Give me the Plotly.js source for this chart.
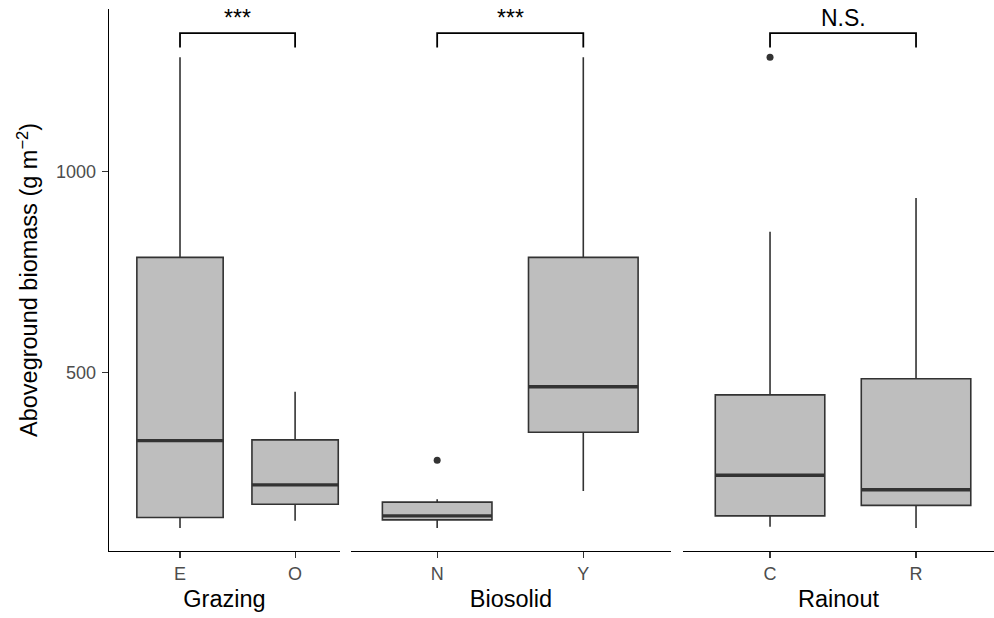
<!DOCTYPE html>
<html>
<head>
<meta charset="utf-8">
<script src="https://cdn.plot.ly/plotly-3.0.1.min.js"></script>
<style>html,body{margin:0;padding:0;background:#fff;}#chart{width:994px;height:618px;}</style>
</head>
<body>
<div id="chart"></div>
<script>
// ---- data ----
const panelTitles = ["Grazing", "Biosolid", "Rainout"];
const panelCats = [["E", "O"], ["N", "Y"], ["C", "R"]];
const lowerWhisker = [[114, 132], [114, 206], [117, 114]];
const q1Vals      = [[140, 173], [134, 352], [144, 170]];
const medianVals  = [[331, 221], [144, 465], [245, 209]];
const q3Vals      = [[787, 333], [178, 787], [445, 485]];
const upperWhisker= [[1285, 453], [185, 1285], [851, 935]];
const outlierVals = [[[], []], [[282], []], [[1285], []]];
const sigLabels = ["***", "***", "N.S."];
const sigBarY = 1345;
const sigTickY = 1309;
const yTicks = [500, 1000];

// ---- styling ----
const boxFill = "#bebebe";
const lineCol = "#333333";
const boxW = 0.75;
const xRanges = [[0.383, 2.39], [0.41, 2.60], [0.404, 2.534]];
const domains = [[0, 0.261], [0.2734, 0.635], [0.6486, 1]];

const traces = [];
const shapes = [];
const annotations = [];
const layout = {
  width: 994, height: 618,
  margin: {l: 109, r: 0, t: 9, b: 67},
  paper_bgcolor: "#fff", plot_bgcolor: "#fff",
  showlegend: false,
  font: {family: "Liberation Sans, Arial, sans-serif"},
  yaxis: {
    range: [56.5, 1405],
    tickvals: yTicks,
    ticks: "outside", ticklen: 6, tickwidth: 1.2, tickcolor: lineCol,
    ticklabelstandoff: 2,
    tickfont: {size: 18, color: "#4d4d4d"},
    showgrid: false, zeroline: false,
    showline: true, linecolor: "#000", linewidth: 1.4,
    title: {text: "Aboveground biomass (g m<sup>\u22122</sup>)", font: {size: 23.5, color: "#000"}, standoff: 11},
    anchor: "x"
  },
  shapes: shapes, annotations: annotations
};

panelTitles.forEach((pt, p) => {
  const xa = p === 0 ? "x" : "x" + (p + 1);
  const xkey = p === 0 ? "xaxis" : "xaxis" + (p + 1);
  layout[xkey] = {
    domain: domains[p], range: xRanges[p],
    tickvals: [1, 2], ticktext: panelCats[p],
    ticks: "outside", ticklen: 6, tickwidth: 1.2, tickcolor: lineCol,
    tickfont: {size: 18, color: "#4d4d4d"},
    showgrid: false, zeroline: false,
    showline: true, linecolor: "#000", linewidth: 1.4,
    anchor: "y",
    title: {text: pt, font: {size: 23.5, color: "#000"}, standoff: 7}
  };
  panelCats[p].forEach((c, i) => {
    const xv = i + 1;
    traces.push({
      type: "box", xaxis: xa, yaxis: "y",
      x: [xv],
      q1: [q1Vals[p][i]], median: [medianVals[p][i]], q3: [q3Vals[p][i]],
      lowerfence: [lowerWhisker[p][i]], upperfence: [upperWhisker[p][i]],
      width: boxW, whiskerwidth: 0,
      fillcolor: boxFill, line: {color: lineCol, width: 1.6},
      boxpoints: false, hoverinfo: "skip"
    });
    // thicker median line (ggplot style)
    traces.push({
      type: "scatter", mode: "lines", xaxis: xa, yaxis: "y",
      x: [xv - boxW / 2, xv + boxW / 2],
      y: [medianVals[p][i], medianVals[p][i]],
      line: {color: lineCol, width: 3.4}, hoverinfo: "skip"
    });
    if (outlierVals[p][i].length) {
      traces.push({
        type: "scatter", mode: "markers", xaxis: xa, yaxis: "y",
        x: outlierVals[p][i].map(() => xv), y: outlierVals[p][i],
        marker: {color: lineCol, size: 7}, hoverinfo: "skip"
      });
    }
  });
  // significance bracket
  traces.push({
    type: "scatter", mode: "lines", xaxis: xa, yaxis: "y",
    x: [1, 1, 2, 2], y: [sigTickY, sigBarY, sigBarY, sigTickY],
    line: {color: "#000", width: 1.8}, hoverinfo: "skip"
  });
  annotations.push({
    xref: xa, yref: "y", x: 1.5, y: sigBarY, yanchor: "bottom", showarrow: false,
    text: sigLabels[p], font: {size: 23, color: "#000"}, yshift: 0
  });
});

Plotly.newPlot("chart", traces, layout, {displayModeBar: false, staticPlot: true});
</script>
</body>
</html>
